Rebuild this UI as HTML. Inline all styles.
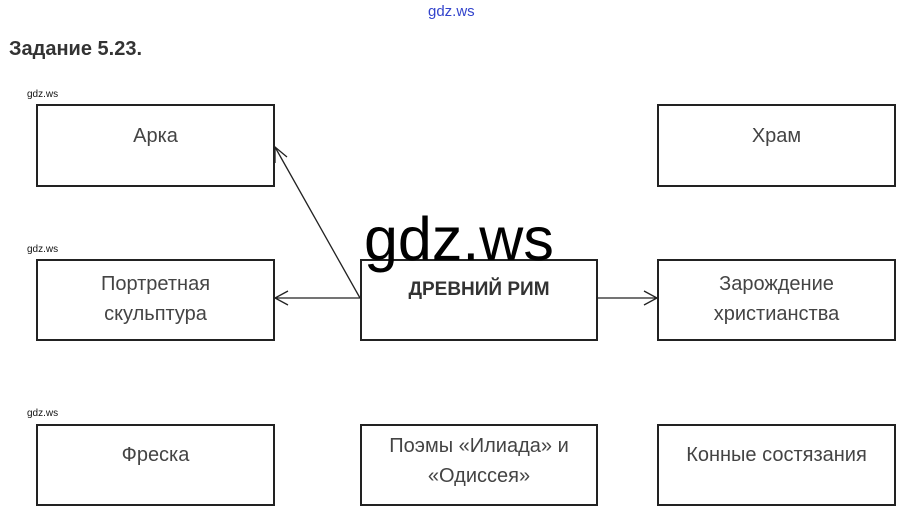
<!DOCTYPE html>
<html><head><meta charset="utf-8"><style>
html,body{margin:0;padding:0;background:#fff;}
body{width:909px;height:514px;position:relative;overflow:hidden;font-family:"Liberation Sans","DejaVu Sans",sans-serif;}
.b{position:absolute;border:2px solid #222;box-sizing:border-box;text-align:center;color:#444;font-size:20px;line-height:30px;}
.s{position:absolute;font-size:10px;color:#111;}
</style></head><body>
<div style="position:absolute;left:428px;top:3px;font-size:15px;color:#3344cc;">gdz.ws</div>
<div style="position:absolute;left:9px;top:38px;font-size:20px;font-weight:bold;color:#333;">Задание 5.23.</div>
<div class="s" style="left:27px;top:89px">gdz.ws</div>
<div class="s" style="left:27px;top:244px">gdz.ws</div>
<div class="s" style="left:27px;top:408px">gdz.ws</div>
<div class="b" style="left:36px;top:104px;width:239px;height:83px;padding-top:15px">Арка</div>
<div class="b" style="left:657px;top:104px;width:239px;height:83px;padding-top:15px">Храм</div>
<div class="b" style="left:36px;top:259px;width:239px;height:82px;padding-top:8px">Портретная<br>скульптура</div>
<div class="b" style="left:360px;top:259px;width:238px;height:82px;padding-top:14px;font-weight:bold;font-size:19px;color:#333">ДРЕВНИЙ РИМ</div>
<div class="b" style="left:657px;top:259px;width:239px;height:82px;padding-top:8px">Зарождение<br>христианства</div>
<div class="b" style="left:36px;top:424px;width:239px;height:82px;padding-top:14px">Фреска</div>
<div class="b" style="left:360px;top:424px;width:238px;height:82px;padding-top:5px">Поэмы «Илиада» и<br>«Одиссея»</div>
<div class="b" style="left:657px;top:424px;width:239px;height:82px;padding-top:14px">Конные состязания</div>
<svg width="909" height="514" style="position:absolute;left:0;top:0" fill="none" stroke="#222" stroke-width="1.3">
<line x1="360" y1="298" x2="275" y2="147"/><polyline points="275,163 275,147 287,157"/>
<line x1="360" y1="298" x2="275" y2="298"/><polyline points="288,291 275,298 288,305"/>
<line x1="598" y1="298" x2="657" y2="298"/><polyline points="644,291 657,298 644,305"/>
</svg>
<div style="position:absolute;left:364px;top:204px;font-size:61px;color:#000;">gdz.ws</div>
</body></html>
